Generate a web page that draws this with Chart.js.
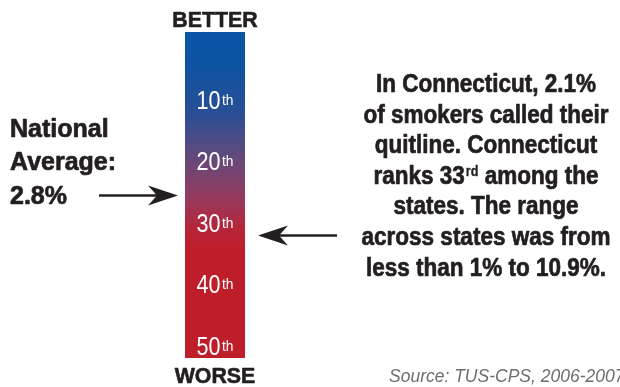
<!DOCTYPE html>
<html>
<head>
<meta charset="utf-8">
<script src="https://cdn.jsdelivr.net/npm/chart.js@4"></script>
<style>
  html, body { margin: 0; padding: 0; background: #ffffff; }
  #wrap { width: 620px; height: 387px; position: relative; }
</style>
</head>
<body>
<div id="wrap"><canvas id="c" width="620" height="387"></canvas></div>
<script>
// ---- data ----
const categories = ['Rank'];
const barRange = [-1, 52];            // extent of the rank bar (rank units)
const rankTicks = [10, 20, 30, 40, 50];
const rankSuffix = ['th', 'th', 'th', 'th', 'th'];
const nationalArrowRank = 25.6;       // National average 2.8%
const stateArrowRank = 32.1;          // Connecticut (ranks 33rd)
const leftLines = ['National', 'Average:', '2.8%'];
const rightLines = [
  ['In Connecticut, 2.1%'],
  ['of smokers called their'],
  ['quitline. Connecticut'],
  ['ranks 33', 'rd', ' among the'],
  ['states. The range'],
  ['across states was from'],
  ['less than 1% to 10.9%.']
];
const topLabel = 'BETTER';
const bottomLabel = 'WORSE';
const sourceText = 'Source: TUS-CPS, 2006-2007';

const INK = '#231f20';
const BOLD = 'bold 25px "Liberation Sans", Arial, sans-serif';
const SQ = 0.9;

function drawHeavy(ctx, text, x, y, maxW, sw) {
  ctx.fillText(text, x, y, maxW);
  if (sw) {
    ctx.lineWidth = sw;
    ctx.strokeStyle = ctx.fillStyle;
    ctx.lineJoin = 'round';
    ctx.strokeText(text, x, y, maxW);
  }
}
function drawSqueezed(ctx, text, x, y, k, sw) {
  const w = ctx.measureText(text).width;
  drawHeavy(ctx, text, x, y, w * k, sw);
  return w * k;
}

const overlay = {
  id: 'overlay',
  afterDatasetsDraw(chart) {
    const ctx = chart.ctx;
    const ys = chart.scales.y;
    const ca = chart.chartArea;
    const cx = (ca.left + ca.right) / 2;
    ctx.save();
    ctx.textBaseline = 'alphabetic';

    // rank labels inside the bar
    const NUMF = '26px "Liberation Sans", Arial, sans-serif';
    const SUPF = '15px "Liberation Sans", Arial, sans-serif';
    rankTicks.forEach((t, i) => {
      const y = ys.getPixelForValue(t);
      const num = String(t);
      ctx.font = NUMF;
      const wn = ctx.measureText(num).width * 0.83;
      ctx.font = SUPF;
      const ws = ctx.measureText(rankSuffix[i]).width * 0.92;
      const gap = 1.5;
      const x0 = cx - (wn + gap + ws) / 2;
      const base = y + 9;
      ctx.fillStyle = '#ffffff';
      ctx.textAlign = 'left';
      ctx.font = NUMF;
      ctx.fillText(num, x0, base, wn);
      ctx.font = SUPF;
      ctx.fillText(rankSuffix[i], x0 + wn + gap, base - 4, ws);
    });

    // BETTER / WORSE
    ctx.fillStyle = INK;
    ctx.textAlign = 'center';
    ctx.font = 'bold 22px "Liberation Sans", Arial, sans-serif';
    drawSqueezed(ctx, topLabel, cx, ca.top - 5, 0.97, 0.6);
    drawSqueezed(ctx, bottomLabel, cx, ca.bottom + 25, 0.97, 0.6);

    // arrows
    function arrow(xFrom, xTip, y) {
      const dir = Math.sign(xTip - xFrom);
      const L = 30, H = 10, N = 21;
      ctx.strokeStyle = INK;
      ctx.lineWidth = 2.5;
      ctx.beginPath();
      ctx.moveTo(xFrom, y);
      ctx.lineTo(xTip - dir * N, y);
      ctx.stroke();
      ctx.fillStyle = INK;
      ctx.beginPath();
      ctx.moveTo(xTip, y);
      ctx.lineTo(xTip - dir * L, y - H);
      ctx.lineTo(xTip - dir * N, y);
      ctx.lineTo(xTip - dir * L, y + H);
      ctx.closePath();
      ctx.fill();
    }
    const yN = ys.getPixelForValue(nationalArrowRank);
    arrow(ca.left - 86, ca.left - 7, yN);
    const yS = ys.getPixelForValue(stateArrowRank);
    arrow(ca.right + 92, ca.right + 13, yS);

    // left block
    ctx.fillStyle = INK;
    ctx.textAlign = 'left';
    ctx.font = BOLD;
    leftLines.forEach((ln, i) => {
      drawSqueezed(ctx, ln, 10, yN - 59 + i * 33.5, 1.0, 0.7);
    });

    // right block
    const rx = 486;
    const rTop = 92, rStep = 30.6;
    rightLines.forEach((parts, i) => {
      const y = rTop + i * rStep;
      ctx.fillStyle = INK;
      if (parts.length === 1) {
        ctx.textAlign = 'center';
        ctx.font = BOLD;
        drawSqueezed(ctx, parts[0], rx, y, SQ, 0.7);
      } else {
        ctx.textAlign = 'left';
        ctx.font = BOLD;
        const w0 = ctx.measureText(parts[0]).width * SQ;
        const w2 = ctx.measureText(parts[2]).width * SQ;
        ctx.font = 'bold 14px "Liberation Sans", Arial, sans-serif';
        const w1 = ctx.measureText(parts[1]).width * SQ;
        const tot = w0 + 1 + w1 + w2;
        let x = rx - tot / 2;
        ctx.font = BOLD;
        drawHeavy(ctx, parts[0], x, y, w0, 0.7); x += w0 + 1;
        ctx.font = 'bold 14px "Liberation Sans", Arial, sans-serif';
        drawHeavy(ctx, parts[1], x, y - 8, w1, 0.3); x += w1;
        ctx.font = BOLD;
        drawHeavy(ctx, parts[2], x, y, w2, 0.7);
      }
    });

    // source
    ctx.fillStyle = '#6d6e71';
    ctx.textAlign = 'left';
    ctx.font = 'italic 17.5px "Liberation Sans", Arial, sans-serif';
    ctx.fillText(sourceText, 389, 382);

    ctx.restore();
  }
};

new Chart(document.getElementById('c'), {
  type: 'bar',
  data: {
    labels: categories,
    datasets: [{
      data: [barRange],
      borderWidth: 0,
      barPercentage: 1,
      categoryPercentage: 1,
      backgroundColor(context) {
        const chart = context.chart;
        const ca = chart.chartArea;
        if (!ca) return '#be1e2a';
        const g = chart.ctx.createLinearGradient(0, ca.top, 0, ca.bottom);
        g.addColorStop(0.00, '#0b54a6');
        g.addColorStop(0.10, '#0d53a3');
        g.addColorStop(0.25, '#294f94');
        g.addColorStop(0.40, '#6a4878');
        g.addColorStop(0.52, '#9a385a');
        g.addColorStop(0.60, '#b5253a');
        g.addColorStop(0.66, '#be1e2a');
        g.addColorStop(1.00, '#be1e2a');
        return g;
      }
    }]
  },
  options: {
    responsive: false,
    animation: false,
    devicePixelRatio: 1,
    layout: { padding: { left: 185, right: 375, top: 32, bottom: 29 } },
    plugins: { legend: { display: false }, tooltip: { enabled: false } },
    scales: {
      x: { display: false },
      y: { display: false, reverse: true, min: barRange[0], max: barRange[1] }
    }
  },
  plugins: [overlay]
});
</script>
</body>
</html>
